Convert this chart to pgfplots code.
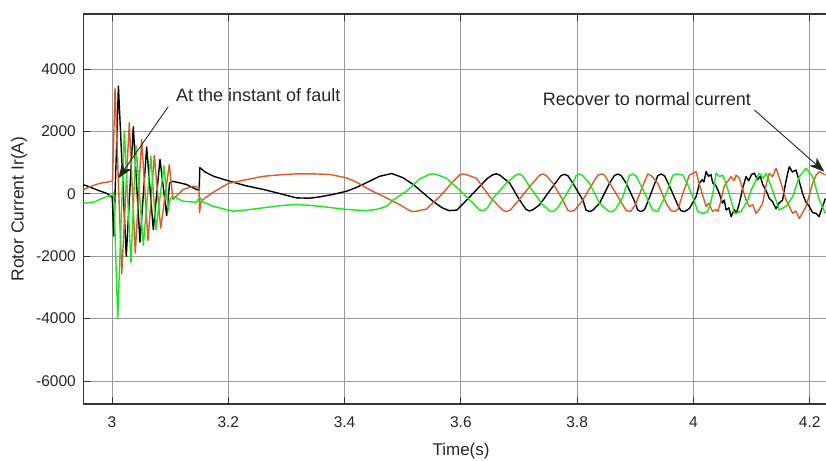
\documentclass[border=0pt]{standalone}
\usepackage{pgfplots}
\pgfplotsset{compat=1.18}
\usepackage{fontspec}
\setmainfont{Liberation Sans}
\usetikzlibrary{arrows.meta}
\definecolor{cOr}{RGB}{222,90,35}
\definecolor{cGr}{RGB}{20,235,20}
\begin{document}
\begin{tikzpicture}
\useasboundingbox (-83.3pt,-56pt) rectangle (742.7pt,404pt);
\begin{axis}[
 at={(0pt,0pt)}, anchor=south west,
 scale only axis, width=742.7pt, height=390pt,
 xmin=2.9506, xmax=4.228, ymin=-6737, ymax=5763,
 axis x line*=box, axis y line*=left,
 axis line style={-, black!80, line width=1.2pt},
 xtick={3,3.2,3.4,3.6,3.8,4,4.2},
 ytick={-6000,-4000,-2000,0,2000,4000},
 xtick pos=both, ytick pos=left,
 tick align=inside,
 major tick length=7pt,
 tick style={black!80, line width=1pt},
 grid=major,
 major grid style={black!40, line width=0.85pt},
 /pgf/number format/assume math mode=true,
 /pgf/number format/1000 sep={},
 ticklabel style={font=\fontsize{15.5}{18}\selectfont, text=black!85},
 yticklabel style={xshift=-4pt},
 xticklabel style={yshift=-9.5pt},
 xlabel={Time(s)},
 ylabel={Rotor Current Ir(A)},
 xlabel style={at={(axis description cs:0.5086,-0.1333)}, anchor=base, font=\fontsize{17}{20}\selectfont, text=black!85},
 ylabel style={at={(axis description cs:-0.0866,0.5)}, anchor=center, font=\fontsize{17.5}{20}\selectfont, text=black!85},
]
% black phase
\addplot[black, line width=1.4pt, line join=round] coordinates {
(2.9507,290) (2.960,230) (2.975,120) (2.990,20) (2.9995,-90) (3.0005,-150) (3.0030,-1350) (3.0110,3450)
(3.0245,-2000) (3.0366,2150) (3.0481,-1550) (3.0596,1500) (3.0710,-1150) (3.0825,1100) (3.0940,-700)
(3.0990,350) (3.1050,400) (3.1280,300) (3.1450,140) (3.1500,120) (3.1510,840) (3.160,700) (3.175,560)
(3.203,400) (3.230,260) (3.260,140) (3.290,0) (3.317,-130) (3.340,-140) (3.357,-100) (3.380,-20)
(3.403,80) (3.420,200) (3.437,350) (3.460,560) (3.481,650) (3.500,520) (3.518,300) (3.535,30)
(3.552,-240) (3.568,-450) (3.580,-540) (3.593,-520) (3.6095,-210) (3.632,230) (3.646,500) (3.655,610)
(3.661,640) (3.667,600) (3.684,340) (3.701,-200) (3.712,-500) (3.718,-550) (3.724,-510) (3.735,-360)
(3.758,230) (3.772,580) (3.778,625) (3.784,580) (3.7926,340) (3.8098,-200) (3.8153,-520) (3.8213,-570)
(3.8273,-520) (3.8385,-300) (3.8557,340) (3.8639,580) (3.8699,636) (3.8759,580) (3.8843,340)
(3.8990,-250) (3.9041,-520) (3.9101,-570) (3.9161,-500) (3.9227,-200) (3.9385,580) (3.9445,636)
(3.9505,570) (3.9588,250) (3.9730,-360) (3.9785,-540) (3.9845,-570) (3.9931,-470)
(4.0046,-90) (4.0080,150) (4.0103,340) (4.0150,450) (4.0180,380) (4.0218,710) (4.0260,560) (4.0300,620)
(4.0332,350) (4.0390,250) (4.0447,0) (4.0500,-300) (4.0530,-200) (4.0562,-520) (4.0610,-450)
(4.0648,-730) (4.0700,-500) (4.0740,-620) (4.0790,-300) (4.0850,200) (4.0905,550) (4.0950,420)
(4.1000,620) (4.1048,660) (4.1100,450) (4.1150,560) (4.1191,300) (4.1250,100) (4.1306,-150)
(4.1360,-250) (4.1421,-480) (4.1470,-300) (4.1534,-200) (4.1580,300) (4.1620,650) (4.1649,870)
(4.1700,700) (4.1765,760) (4.1820,400) (4.1878,0) (4.1930,-250) (4.1993,-410) (4.2050,-600)
(4.2108,-630) (4.2160,-730) (4.2222,-410) (4.2268,-150)
};
% orange phase
\addplot[cOr, line width=1.4pt, line join=round] coordinates {
(2.9507,130) (2.965,250) (2.980,340) (2.9995,400) (3.0010,450) (3.0052,3370) (3.0167,-2570)
(3.0297,2280) (3.0400,-1900) (3.0510,1740) (3.0620,-1500) (3.0727,1230) (3.0837,-1100) (3.0985,940)
(3.1048,-180) (3.1225,140) (3.1397,240) (3.1495,200) (3.1505,-610) (3.1530,-250) (3.1569,-180)
(3.1740,50) (3.200,330) (3.230,450) (3.260,560) (3.290,610) (3.317,640) (3.345,640) (3.375,620)
(3.403,510) (3.420,380) (3.437,190) (3.455,20) (3.472,-130) (3.495,-350) (3.5117,-540) (3.5177,-570)
(3.5260,-550) (3.5407,-490) (3.5636,-90) (3.5864,390) (3.5976,600) (3.6036,636) (3.6100,610)
(3.6266,500) (3.6495,-90) (3.6722,-530) (3.6782,-570) (3.6850,-520) (3.6954,-300) (3.7182,230)
(3.7351,590) (3.7411,636) (3.7471,580) (3.7582,340) (3.7754,-200) (3.7839,-530) (3.7899,-570)
(3.7959,-520) (3.8098,-200) (3.8270,340) (3.8354,590) (3.8414,636) (3.8470,600) (3.8672,0)
(3.8844,-540) (3.8920,-570) (3.9000,-350) (3.9129,250) (3.9215,636) (3.9275,580) (3.9387,340)
(3.9531,-300) (3.9614,-540) (3.9674,-570) (3.9734,-500) (3.9816,0) (3.9931,600) (4.0046,710)
(4.0103,300) (4.0160,-50) (4.0218,-410) (4.0260,-300) (4.0332,-570) (4.0380,-500) (4.0418,-570)
(4.0470,-250) (4.0530,250) (4.0590,400) (4.0648,550) (4.0700,420) (4.0733,600) (4.0790,500)
(4.0847,150) (4.0905,-200) (4.0962,-410) (4.1020,-350) (4.1077,-630) (4.1130,-500) (4.1191,-300)
(4.1250,300) (4.1306,660) (4.1360,550) (4.1421,820) (4.1480,500) (4.1530,200) (4.1593,-200)
(4.1650,-400) (4.1706,-630) (4.1760,-550) (4.1821,-790) (4.1880,-600) (4.1936,-410) (4.2000,0)
(4.2050,340) (4.2110,600) (4.2165,710) (4.2268,600)
};
% green phase
\addplot[cGr, line width=1.4pt, line join=round] coordinates {
(2.9507,-300) (2.970,-260) (2.985,-130) (2.9995,-50) (3.0030,30) (3.0098,-4000) (3.0211,2000)
(3.0326,-2200) (3.0412,1550) (3.0538,-1650) (3.0668,1200) (3.0756,-1150) (3.0893,900) (3.0967,-550)
(3.1000,-150) (3.1048,-80) (3.1225,-240) (3.1454,-270) (3.1505,-100) (3.1550,-250) (3.1740,-400)
(3.2085,-560) (3.230,-520) (3.260,-450) (3.290,-380) (3.317,-340) (3.340,-370) (3.357,-400)
(3.380,-450) (3.403,-500) (3.437,-540) (3.455,-500) (3.472,-400) (3.4833,-200) (3.5064,80)
(3.5293,480) (3.5462,620) (3.5522,636) (3.5582,620) (3.5751,500) (3.5979,120) (3.6208,-300)
(3.6320,-520) (3.6400,-540) (3.6470,-420) (3.6552,-150) (3.6781,340) (3.6950,610) (3.7010,636)
(3.7070,560) (3.7182,230) (3.7411,-360) (3.7522,-540) (3.7582,-570) (3.7642,-500) (3.7754,-200)
(3.7926,340) (3.7981,580) (3.8041,636) (3.8101,570) (3.8213,340) (3.8385,-300) (3.8540,-560)
(3.8600,-580) (3.8660,-500) (3.8785,-100) (3.8897,580) (3.8957,636) (3.9017,560) (3.9129,150)
(3.9301,-520) (3.9387,-570) (3.9531,0) (3.9643,590) (3.9703,636) (3.9816,600) (3.9900,300)
(4.0000,-150) (4.0074,-570) (4.0160,-630) (4.0246,-570) (4.0290,-300) (4.0332,0) (4.0390,660)
(4.0447,550) (4.0504,600) (4.0562,300) (4.0648,-200) (4.0704,-630) (4.0820,-570) (4.0933,-200)
(4.1000,150) (4.1134,660) (4.1200,500) (4.1249,660) (4.1363,100) (4.1478,-520) (4.1593,-400)
(4.1706,-100) (4.1821,550) (4.1936,820) (4.2050,550) (4.2165,-200) (4.2268,-630)
};
\node[anchor=base west, inner sep=0pt, font=\fontsize{18}{21}\selectfont, text=black!85] at (axis cs:3.110,2952) {At the instant of fault};
\node[anchor=base west, inner sep=0pt, font=\fontsize{18}{21}\selectfont, text=black!85] at (axis cs:3.7405,2846) {Recover to normal current};
\draw[black!85, line width=0.9pt, -{Stealth[length=15pt,width=11pt,inset=4pt]}] (axis cs:3.0967,2792) -- (axis cs:3.0108,497);
\draw[black!85, line width=0.9pt, -{Stealth[length=15pt,width=11pt,inset=4pt]}] (axis cs:4.1048,2686) -- (axis cs:4.2251,708);
\end{axis}
\end{tikzpicture}
\end{document}
